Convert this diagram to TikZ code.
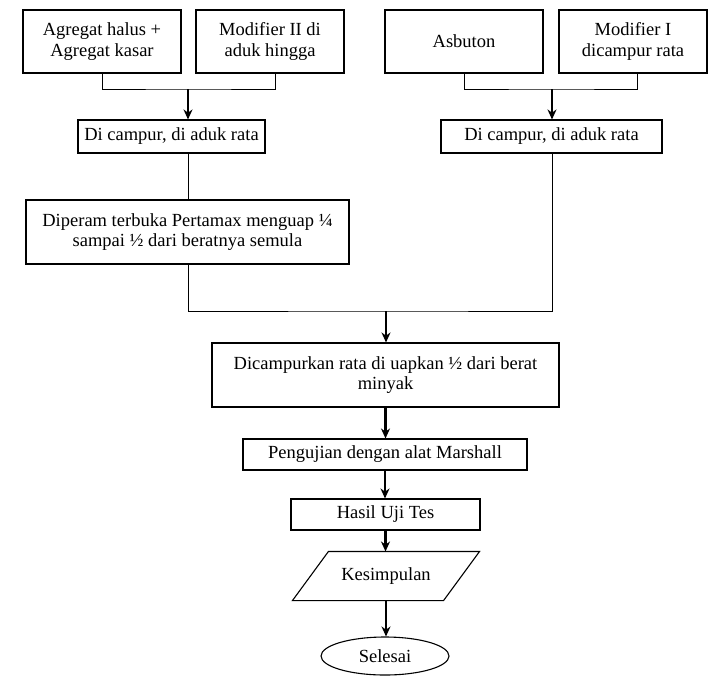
\documentclass[tikz,border=0pt]{standalone}
\usepackage{fontspec}
\setmainfont{LiberationSerif}[Extension=.ttf, UprightFont=*-Regular, BoldFont=*-Bold]
\usetikzlibrary{shapes.geometric,arrows.meta,calc}
\begin{document}
\begin{tikzpicture}[x=1pt,y=-1pt,
  box/.style={draw, line width=1.1pt, align=center, inner sep=0pt, font=\fontsize{18.5}{20.5}\selectfont},
  thinline/.style={line width=1pt},
  arr/.style={line width=2.2pt, -{Stealth[length=10pt,width=9pt]}}]
\useasboundingbox (0,0) rectangle (708,675);
\node[box, minimum width=158pt, minimum height=63pt] (A) at (102,41.5) {Agregat halus +\\Agregat kasar};
\node[box, minimum width=148pt, minimum height=63pt] (B) at (270,41.5) {Modifier II di\\aduk hingga};
\node[box, minimum width=187pt, minimum height=33pt] (C) at (171.5,136.5) {Di campur, di aduk rata};
\node[box, minimum width=158pt, minimum height=63pt] (D) at (464,41.5) {Asbuton};
\node[box, minimum width=148pt, minimum height=63pt] (E) at (633,41.5) {Modifier I\\dicampur rata};
\node[box, minimum width=221pt, minimum height=33pt] (F) at (551.5,136.5) {Di campur, di aduk rata};
\node[box, minimum width=323pt, minimum height=64pt] (G) at (187.5,232) {Diperam terbuka Pertamax menguap ¼\\sampai ½ dari beratnya semula};
\node[box, minimum width=347pt, minimum height=64pt] (H) at (385.5,375) {Dicampurkan rata di uapkan ½ dari berat\\minyak};
\node[box, minimum width=284pt, minimum height=31pt] (I) at (385,454.5) {Pengujian dengan alat Marshall};
\node[box, minimum width=189pt, minimum height=31pt] (J) at (385.5,514.5) {Hasil Uji Tes};
\node[box, draw=none, minimum width=150pt, minimum height=48pt] (K) at (386,576) {Kesimpulan};
\node[box, ellipse, minimum width=128pt, minimum height=38pt] (L) at (385,656) {Selesai};
\draw[line width=1.1pt] ([xshift=18pt]K.north west) -- ([xshift=18pt]K.north east) -- ([xshift=-18pt]K.south east) -- ([xshift=-18pt]K.south west) -- cycle;
\coordinate (j1) at (188,89);
\coordinate (b1) at ($(B.south)+(5,0)$);
\coordinate (j2) at (552,89);
\coordinate (e1) at ($(E.south)+(4,0)$);
\coordinate (j3) at (386,311);
\draw[thinline] (A.south) |- (j1) -| (b1);
\draw[arr] (j1) -- (C.north -| j1);
\draw[thinline] (D.south) |- (j2) -| (e1);
\draw[arr] (j2) -- (F.north -| j2);
\draw[thinline] (C.south -| j1) -- (G.north -| j1);
\draw[thinline] (G.south -| j1) |- (j3) -| (F.south -| j2);
\draw[arr] (j3) -- (H.north -| j3);
\draw[arr] (H.south) -- (H.south |- I.north);
\draw[arr] (I.south) -- (I.south |- J.north);
\draw[arr] (J.south) -- (J.south |- K.north);
\draw[arr] (K.south) -- (K.south |- L.north);
\end{tikzpicture}
\end{document}
